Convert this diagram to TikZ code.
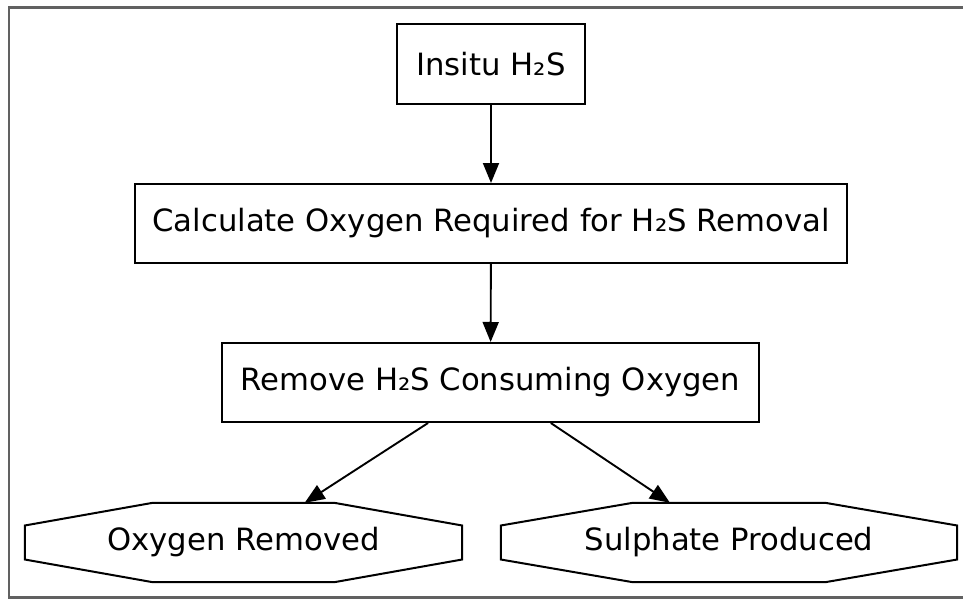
\documentclass[tikz,border=0pt]{standalone}
\usepackage{fontspec}
\setmainfont{DejaVu Sans}
\usetikzlibrary{arrows.meta,calc}

\tikzset{
  stepbox/.style={draw=black, line width=2pt, fill=white, inner sep=0pt,
    font=\fontsize{30.7}{36}\selectfont},
  outcome/.style={inner sep=0pt, font=\fontsize{30.7}{36}\selectfont},
  flow/.style={line width=1.9pt, -{Triangle[length=20pt,width=16pt]}},
  octline/.style={draw=black, line width=2pt, fill=white, line join=miter},
  frame/.style={draw=black!62, line width=2.6pt}
}

% octagon drawn around a named node: #1 node, #2 inset of the slanted sides, #3 half height of the vertical sides
\newcommand{\octoutline}[3]{%
  \path[octline]
    ($(#1.north west)+(#2,0)$) -- ($(#1.north east)+(-#2,0)$)
    -- ($(#1.east)+(0,#3)$) -- ($(#1.east)+(0,-#3)$)
    -- ($(#1.south east)+(-#2,0)$) -- ($(#1.south west)+(#2,0)$)
    -- ($(#1.west)+(0,-#3)$) -- ($(#1.west)+(0,#3)$) -- cycle;}

\begin{document}
\begin{tikzpicture}[x=1pt, y=-1pt]
  \useasboundingbox (0,0) rectangle (963,599);
  \fill[white] (0,0) rectangle (963,599);
  \draw[frame] (975,7.5) -- (9,7.5) -- (9,597.5) -- (975,597.5);

  \node[stepbox, minimum width=188pt, minimum height=80pt] (src) at (491,64.5) {Insitu H₂S};
  \node[stepbox, minimum width=712pt, minimum height=79pt] (calc) at (491,223.5) {Calculate Oxygen Required for H₂S Removal};
  \node[stepbox, minimum width=537pt, minimum height=79pt] (rem) at (490.5,382.5) {Remove H₂S Consuming Oxygen};

  \node[outcome, minimum width=437pt, minimum height=79pt] (oxy) at (243.5,542.5) {};
  \node[outcome, minimum width=456pt, minimum height=79pt] (sul) at (729,542.5) {};
  \octoutline{oxy}{128pt}{17pt}
  \octoutline{sul}{132pt}{17pt}
  \node[outcome] (oxyt) at (oxy.center) {Oxygen Removed};
  \node[outcome] (sult) at (sul.center) {Sulphate Produced};

  \draw[flow] (src) -- (calc);
  \draw[flow] (calc) -- (rem);
  \draw[flow] (rem) -- (oxy);
  \draw[flow] (rem) -- (sul);
\end{tikzpicture}
\end{document}
